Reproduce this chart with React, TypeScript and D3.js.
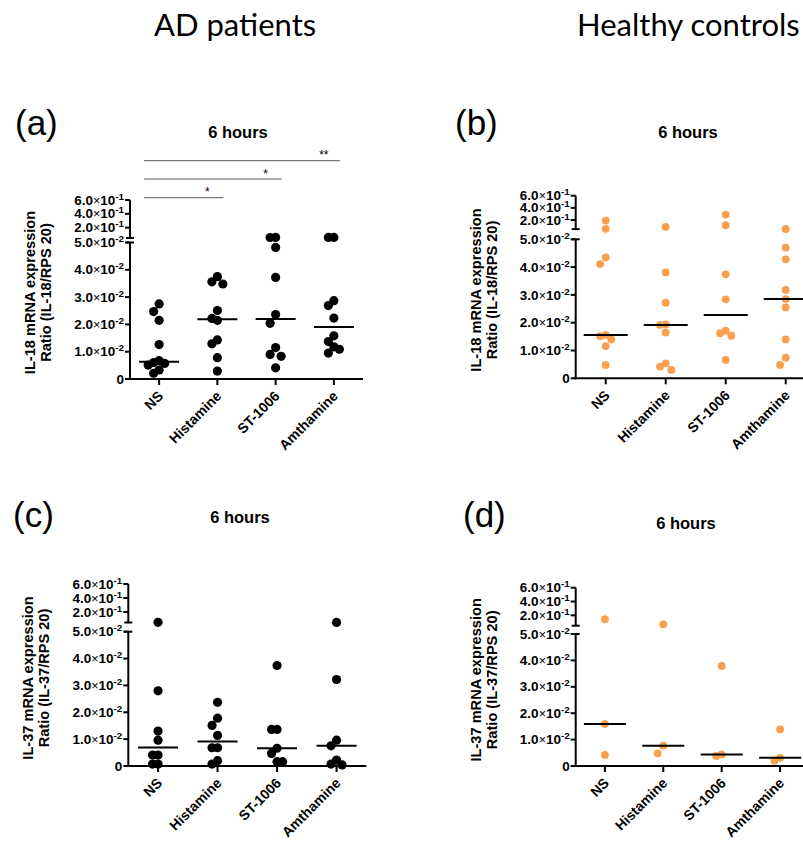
import React, { useRef, useEffect } from "react";
import * as d3 from "d3";

const categories = ["NS", "Histamine", "ST-1006", "Amthamine"];

// IL-18, AD patients (a)
const adIL18NS = [0.0275, 0.0247, 0.0215, 0.0126, 0.0067, 0.006, 0.0057, 0.0051, 0.0033, 0.0021];
const adIL18Hist = [0.0375, 0.0356, 0.0348, 0.0251, 0.0222, 0.0215, 0.0143, 0.0129, 0.0078, 0.0029];
const adIL18ST = [0.058, 0.057, 0.0482, 0.0372, 0.0236, 0.0204, 0.0115, 0.009, 0.0083, 0.0041];
const adIL18Amth = [0.058, 0.058, 0.0287, 0.0269, 0.0223, 0.0158, 0.0137, 0.0118, 0.0109, 0.0095];

// IL-18, healthy controls (b)
const hcIL18NS = [0.19, 0.055, 0.0435, 0.0411, 0.0156, 0.0152, 0.014, 0.0116, 0.0048];
const hcIL18Hist = [0.085, 0.0381, 0.0272, 0.0194, 0.0192, 0.0165, 0.0054, 0.0042, 0.003];
const hcIL18ST = [0.29, 0.113, 0.0374, 0.0284, 0.0171, 0.0162, 0.0153, 0.0066];
const hcIL18Amth = [0.052, 0.047, 0.0428, 0.0318, 0.0285, 0.0255, 0.014, 0.0074, 0.0048];

// IL-37, AD patients (c)
const adIL37NS = [0.053, 0.028, 0.013, 0.0096, 0.0041, 0.0041, 0.0007, 0.0007];
const adIL37Hist = [0.0237, 0.0178, 0.0151, 0.0114, 0.0068, 0.0068, 0.002, 0.0007];
const adIL37ST = [0.0374, 0.0136, 0.0136, 0.0066, 0.0047, 0.0016, 0.0016];
const adIL37Amth = [0.051, 0.0322, 0.0096, 0.0075, 0.0022, 0.0007, 0.0004];

// IL-37, healthy controls (d)
const hcIL37NS = [0.143, 0.0159, 0.0042];
const hcIL37Hist = [0.07, 0.0077, 0.0048];
const hcIL37ST = [0.0379, 0.0044, 0.0038];
const hcIL37Amth = [0.0139, 0.0031, 0.002];

const lowerTicks = [0, 0.01, 0.02, 0.03, 0.04, 0.05];
const lowerMantissa = ["0", "1.0", "2.0", "3.0", "4.0", "5.0"];
const upperTicks = [0.2, 0.4, 0.6];
const upperMantissa = ["2.0", "4.0", "6.0"];

// significance bars in (a): from NS to category, label
const sigTo = ["Histamine", "ST-1006", "Amthamine"];
const sigLabels = ["*", "*", "**"];

const ORANGE = "#f9a04e";
const AXIS_FONT = "'Liberation Sans', Arial, sans-serif";

// slot based scatter: points closer than minDy vertically go to different slots
function swarm(ys, step, minDy) {
  const order = ys.map((y, i) => i).sort((a, b) => ys[a] - ys[b]);
  const slots = [0, -1, 1, -2, 2, -3, 3, -4, 4];
  const placed = [];
  const offs = new Array(ys.length).fill(0);
  order.forEach((i) => {
    const y = ys[i];
    const s = slots.find((k) => placed.every((p) => p.k !== k || Math.abs(p.y - y) >= minDy));
    offs[i] = s * step;
    placed.push({ k: s, y });
  });
  return offs;
}

const panels = [
  {
    letter: "(a)", lx: 15, ly: 135,
    x0: 130, x1: 363, y0: 379, lowTop: 242.5, upBottom: 238, top: 200,
    titleX: 238, titleY: 138,
    gene: "IL-18",
    groups: [adIL18NS, adIL18Hist, adIL18ST, adIL18Amth],
    color: "#000", r: 4.6, step: 5.5, minDy: 9, half: 20,
    sig: [197.7, 179, 160.7],
  },
  {
    letter: "(b)", lx: 455, ly: 135,
    x0: 575.7, x1: 815.7, y0: 378.3, lowTop: 239.3, upBottom: 229.1, top: 195.7,
    titleX: 688, titleY: 138,
    gene: "IL-18",
    groups: [hcIL18NS, hcIL18Hist, hcIL18ST, hcIL18Amth],
    color: ORANGE, r: 3.9, step: 5.6, minDy: 8, half: 22,
    sig: null,
  },
  {
    letter: "(c)", lx: 13, ly: 527,
    x0: 128.3, x1: 366.3, y0: 766, lowTop: 631.7, upBottom: 622.5, top: 584,
    titleX: 240, titleY: 523,
    gene: "IL-37",
    groups: [adIL37NS, adIL37Hist, adIL37ST, adIL37Amth],
    color: "#000", r: 4.6, step: 5.5, minDy: 9, half: 20,
    sig: null,
  },
  {
    letter: "(d)", lx: 463, ly: 527,
    x0: 575.7, x1: 809.3, y0: 766, lowTop: 634, upBottom: 625.7, top: 587.7,
    titleX: 686, titleY: 529,
    gene: "IL-37",
    groups: [hcIL37NS, hcIL37Hist, hcIL37ST, hcIL37Amth],
    color: ORANGE, r: 3.9, step: 5.6, minDy: 8, half: 21,
    sig: null,
  },
];

function drawPanel(svg, p) {
  const g = svg.append("g");
  const x = d3.scaleBand().domain(categories).range([p.x0, p.x1]).padding(0);
  const cx = (c) => x(c) + x.bandwidth() / 2;
  const yLow = d3.scaleLinear().domain([0, 0.05]).range([p.y0, p.lowTop]);
  const yUp = d3.scaleLinear().domain([0.05, 0.6]).range([p.upBottom, p.top]);
  const y = (v) => (v <= 0.05 ? yLow(v) : yUp(v));

  // panel letter + title
  g.append("text").attr("x", p.lx).attr("y", p.ly)
    .style("font-family", AXIS_FONT).style("font-size", "35px").text(p.letter);
  g.append("text").attr("x", p.titleX).attr("y", p.titleY).attr("text-anchor", "middle")
    .style("font-family", AXIS_FONT).style("font-size", "16.5px").style("font-weight", "bold")
    .text("6 hours");

  const axisStroke = (sel) => sel.attr("stroke", "#000").attr("stroke-width", 2).attr("fill", "none");

  // y axis, lower and upper segments
  axisStroke(g.append("line").attr("x1", p.x0).attr("x2", p.x0).attr("y1", p.y0 + 1).attr("y2", p.lowTop));
  axisStroke(g.append("line").attr("x1", p.x0).attr("x2", p.x0).attr("y1", p.upBottom).attr("y2", yUp(0.6)));
  // break caps
  [p.lowTop, p.upBottom].forEach((yy) =>
    axisStroke(g.append("line").attr("x1", p.x0 - 4).attr("x2", p.x0 + 4).attr("y1", yy).attr("y2", yy))
  );

  const tickLabel = (yy, mant, exp) => {
    axisStroke(g.append("line").attr("x1", p.x0 - 5).attr("x2", p.x0).attr("y1", yy).attr("y2", yy));
    const t = g.append("text").attr("x", p.x0 - 6).attr("y", yy + 4.6).attr("text-anchor", "end")
      .style("font-family", AXIS_FONT).style("font-size", "13.5px").style("font-weight", "bold");
    t.append("tspan").text(mant);
    if (exp) {
      t.append("tspan").style("font-weight", "normal").style("font-size", "12.5px").text("\u00d7");
      t.append("tspan").text("10");
      t.append("tspan").attr("dy", -5).style("font-size", "9.8px").text(exp);
    }
  };
  lowerTicks.forEach((v, i) => tickLabel(yLow(v), lowerMantissa[i], v === 0 ? null : "-2"));
  upperTicks.forEach((v, i) => tickLabel(yUp(v), upperMantissa[i], "-1"));

  // x axis
  axisStroke(g.append("line").attr("x1", p.x0 - 1).attr("x2", p.x1).attr("y1", p.y0).attr("y2", p.y0));
  categories.forEach((c) => {
    axisStroke(g.append("line").attr("x1", cx(c)).attr("x2", cx(c)).attr("y1", p.y0).attr("y2", p.y0 + 6));
    g.append("text")
      .attr("transform", `translate(${cx(c) + 5},${p.y0 + 18}) rotate(-45)`)
      .attr("text-anchor", "end")
      .style("font-family", AXIS_FONT).style("font-size", "14px").style("font-weight", "bold")
      .text(c);
  });

  // y label
  const midY = (p.y0 + p.top) / 2 + 3;
  [`${p.gene} mRNA expression`, `Ratio (${p.gene}/RPS 20)`].forEach((line, i) => {
    g.append("text")
      .attr("transform", `translate(${p.x0 - 95 + i * 16},${midY}) rotate(-90)`)
      .attr("text-anchor", "middle")
      .style("font-family", AXIS_FONT).style("font-size", "14.6px").style("font-weight", "bold")
      .text(line);
  });

  // points and medians
  p.groups.forEach((vals, gi) => {
    const c = categories[gi];
    const ys = vals.map(y);
    const offs = swarm(ys, p.step, p.minDy);
    g.selectAll(null).data(vals).enter().append("circle")
      .attr("cx", (d, i) => cx(c) + offs[i])
      .attr("cy", (d) => y(d))
      .attr("r", p.r)
      .attr("fill", p.color);
    const med = d3.median(vals);
    g.append("line")
      .attr("x1", cx(c) - p.half).attr("x2", cx(c) + p.half)
      .attr("y1", y(med)).attr("y2", y(med))
      .attr("stroke", "#000").attr("stroke-width", 2);
  });

  // significance bars
  if (p.sig) {
    sigTo.forEach((to, i) => {
      const yy = p.sig[i];
      g.append("line")
        .attr("x1", cx("NS") - 15).attr("x2", cx(to) + 6)
        .attr("y1", yy).attr("y2", yy)
        .attr("stroke", "#555").attr("stroke-width", 1);
      g.append("text").attr("x", cx(to) - 10).attr("y", yy - 1.5).attr("text-anchor", "middle")
        .style("font-family", AXIS_FONT).style("font-size", "12px")
        .text(sigLabels[i]);
    });
  }
}

const App = () => {
  const svgRef = useRef(null);

  useEffect(() => {
    const svg = d3.select(svgRef.current);
    svg.selectAll("*").remove();

    svg.append("rect").attr("width", 803).attr("height", 841).attr("fill", "#fff");

    // group headings
    svg.append("text").attr("x", 154).attr("y", 36)
      .style("font-family", "Lato, 'Open Sans', sans-serif").style("font-size", "31px")
      .text("AD patients");
    svg.append("text").attr("x", 577).attr("y", 36)
      .style("font-family", "Lato, 'Open Sans', sans-serif").style("font-size", "31px")
      .text("Healthy controls");

    panels.forEach((p) => drawPanel(svg, p));
  }, []);

  return (
    <svg
      ref={svgRef}
      width={803}
      height={841}
      style={{ position: "absolute", left: 0, top: 0 }}
    ></svg>
  );
};

export default App;
